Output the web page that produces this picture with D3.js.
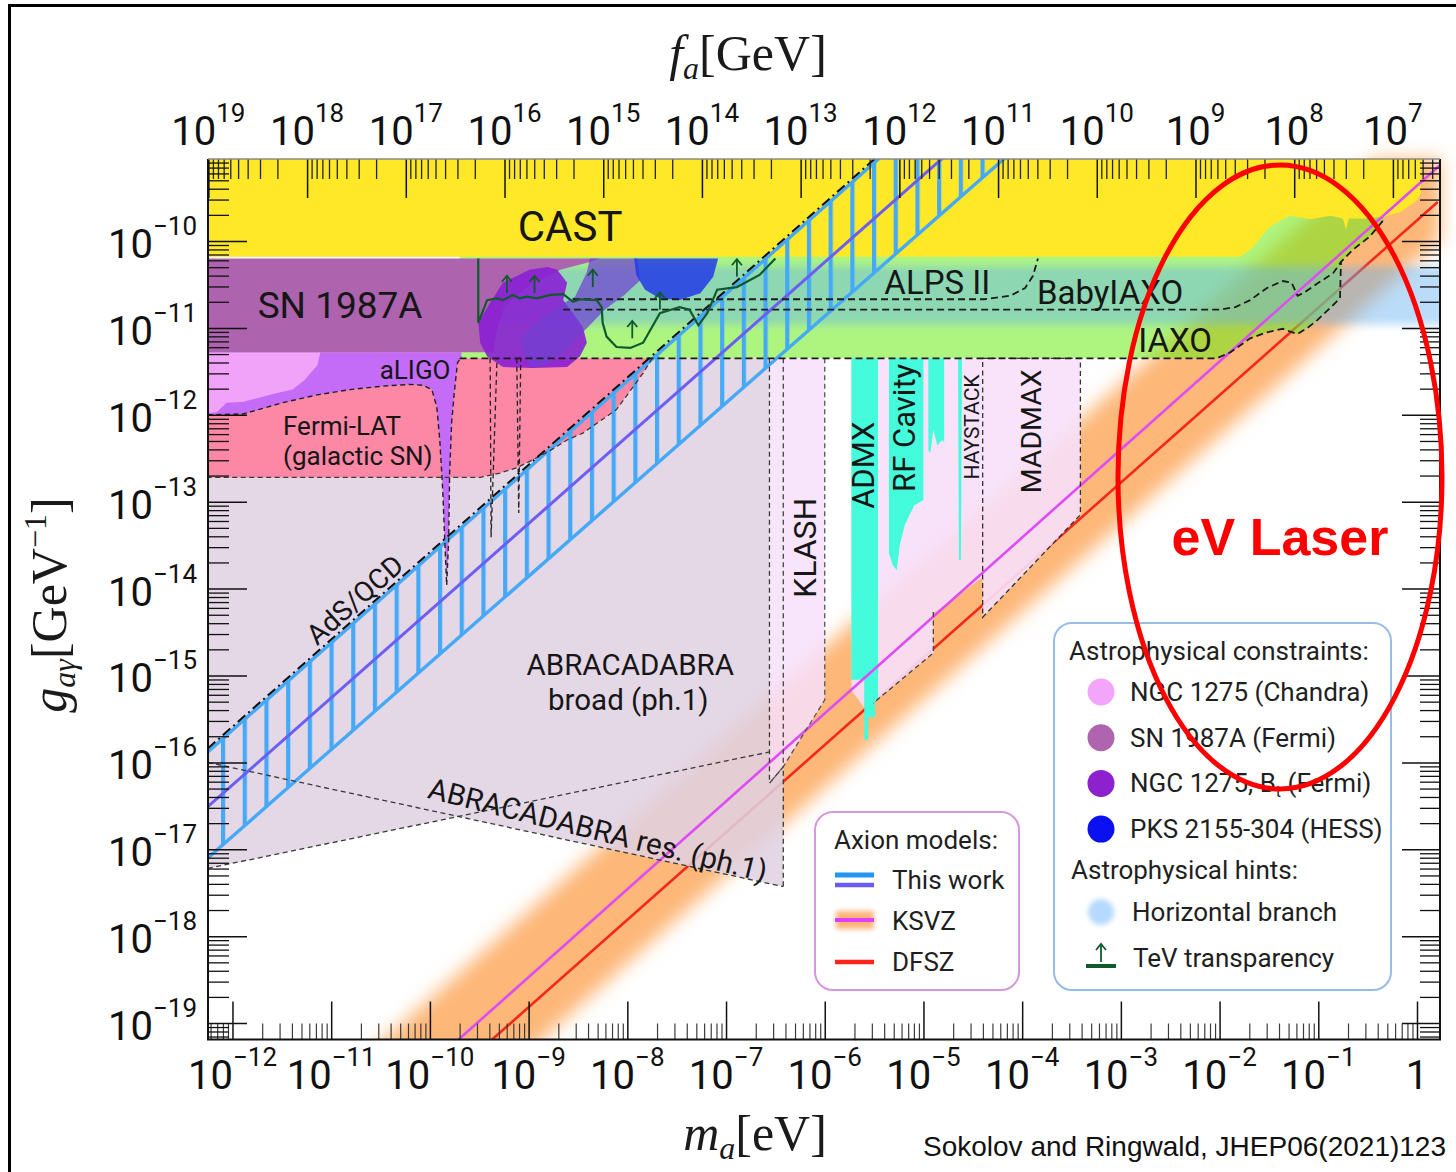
<!DOCTYPE html>
<html>
<head>
<meta charset="utf-8">
<script src="https://cdn.jsdelivr.net/npm/d3@7"></script>
<style>
  html, body { margin: 0; padding: 0; background: #fff; }
  svg { display: block; }
  .sans { font-family: Roboto, "Liberation Sans", Arial, sans-serif; }
  .serif { font-family: "Liberation Serif", "DejaVu Serif", serif; }
</style>
</head>
<body>
<svg id="chart" width="1456" height="1172"></svg>
<script>
// Axion-photon coupling versus axion mass: limits, projections and model bands.
// Every curve is a list of [log10(m_a / eV), log10(g_aγ / GeV^-1)] pairs.

const massDomain = [-12.248, 0.233];
const couplingDomain = [-19.189, -9.056];
const faPerMass = 5.7e6; // f_a[GeV] * m_a[eV]

// tick labels (powers of ten)
const massExponents = [-12, -11, -10, -9, -8, -7, -6, -5, -4, -3, -2, -1, 0];
const couplingExponents = [-19, -18, -17, -16, -15, -14, -13, -12, -11, -10];
const faExponents = [19, 18, 17, 16, 15, 14, 13, 12, 11, 10, 9, 8, 7];

// helioscopes
const castLimit = [[-12.25,-10.18],[-1.79,-10.18],[-1.67,-10.08],[-1.54,-9.90],[-1.47,-9.82],[-1.29,-9.71],
  [-1.08,-9.75],[-0.88,-9.71],[-0.75,-9.74],[-0.72,-9.87],[-0.69,-9.74],[-0.53,-9.74],[-0.34,-9.72],
  [-0.17,-9.67],[0.00,-9.53],[0.04,-9.45],[0.05,-8.95]];
const iaxoLimit = [[-9.70,-11.35],[-2.03,-11.35],[-1.89,-11.28],[-1.69,-11.12],[-1.52,-11.05],[-1.36,-11.01],
  [-1.29,-11.04],[-1.21,-11.07],[-1.11,-11.00],[-1.01,-10.91],[-0.88,-10.77],[-0.78,-10.66],[-0.77,-10.24],
  [-0.65,-10.10],[-0.48,-9.95],[-0.34,-9.76]];
const babyIaxoLimit = [[-8.65,-10.79],[-2.00,-10.79],[-1.84,-10.76],[-1.69,-10.68],[-1.52,-10.54],[-1.36,-10.46],
  [-1.27,-10.48],[-1.21,-10.63],[-1.14,-10.59],[-1.01,-10.49],[-0.85,-10.37],[-0.77,-10.24]];
const alpsIILimit = [[-8.55,-10.67],[-4.38,-10.67],[-4.12,-10.63],[-3.97,-10.54],[-3.89,-10.40],[-3.84,-10.20]];

// astrophysics
const hbHint = [-10.96, -10.29];
const sn1987a = [[-12.25,-11.28],[-9.36,-11.28],[-9.32,-11.02],[-9.24,-10.74],[-8.99,-10.51],[-8.68,-10.33],
  [-8.38,-10.24],[-8.28,-10.20],[-12.25,-10.20]];
const chandraNgc1275 = [[-12.25,-11.28],[-11.11,-11.28],[-11.14,-11.43],[-11.27,-11.60],[-11.39,-11.71],
  [-11.55,-11.75],[-11.72,-11.80],[-11.89,-11.85],[-12.06,-11.86],[-12.16,-11.97],[-12.25,-11.98]];
const fermiNgc1275A = [[-9.51,-10.94],[-9.49,-11.17],[-9.42,-11.33],[-9.26,-11.45],[-8.96,-11.46],[-8.61,-11.45],
  [-8.48,-11.33],[-8.41,-11.17],[-8.45,-10.99],[-8.65,-10.68],[-8.61,-10.48],[-8.71,-10.33],[-8.81,-10.30],
  [-8.99,-10.33],[-9.26,-10.48],[-9.39,-10.71]];
const fermiNgc1275B = [[-8.53,-10.64],[-8.41,-10.36],[-8.38,-10.20],[-7.90,-10.20],[-7.87,-10.45],[-8.03,-10.62],
  [-8.23,-10.79],[-8.38,-10.97],[-8.53,-11.14],[-8.68,-11.31],[-8.83,-11.43],[-8.99,-11.45],[-9.09,-11.14],
  [-8.89,-10.91],[-8.68,-10.74]];
const hessPks2155 = [[-7.93,-10.20],[-7.08,-10.20],[-7.13,-10.41],[-7.26,-10.60],[-7.47,-10.68],[-7.67,-10.66],
  [-7.82,-10.56],[-7.91,-10.39]];
const tevTransparency = [[-9.51,-10.20],[-9.51,-10.94],[-9.42,-10.68],[-9.32,-10.66],[-9.26,-10.68],[-9.16,-10.62],
  [-9.09,-10.66],[-9.02,-10.64],[-8.92,-10.66],[-8.78,-10.62],[-8.65,-10.61],[-8.55,-10.70],[-8.48,-10.67],
  [-8.31,-10.68],[-8.26,-10.76],[-8.25,-10.94],[-8.21,-11.10],[-8.11,-11.22],[-7.97,-11.23],[-7.84,-11.17],
  [-7.67,-10.83],[-7.47,-10.76],[-7.37,-10.79],[-7.28,-10.97],[-7.19,-10.83],[-7.09,-10.56],[-6.89,-10.53],
  [-6.66,-10.39],[-6.50,-10.20]];
const tevArrowBases = [[-9.22,-10.60],[-8.94,-10.60],[-8.35,-10.53],[-7.95,-11.12],[-7.67,-10.79],[-6.89,-10.41]];

// gravitational-wave / gamma-ray projections
const aligoRegion = [[-12.25,-12.00],[-11.89,-11.99],[-11.49,-11.86],[-11.14,-11.77],[-10.81,-11.71],[-10.48,-11.67],
  [-10.20,-11.65],[-10.07,-11.66],[-9.98,-11.71],[-9.93,-11.91],[-9.90,-12.29],[-9.87,-12.87],[-9.85,-13.44],
  [-9.83,-13.96],[-9.81,-13.44],[-9.80,-12.67],[-9.78,-12.09],[-9.75,-11.71],[-9.72,-11.40],[-9.68,-11.33],
  [-9.68,-11.28],[-12.25,-11.28]];
const aligoNotchA = [[-9.39,-11.35],[-9.38,-13.41],[-9.32,-11.35]];
const aligoNotchB = [[-9.12,-11.35],[-9.10,-13.13],[-9.08,-11.35]];
const fermiGalacticSN = [[-12.25,-11.28],[-9.70,-11.28],[-9.70,-11.35],[-7.75,-11.35],[-7.84,-11.52],[-8.11,-11.94],
  [-8.45,-12.21],[-8.61,-12.29],[-8.78,-12.41],[-8.96,-12.52],[-9.12,-12.61],[-9.29,-12.67],[-9.49,-12.72],
  [-12.25,-12.72]];

// lumped-element and haloscope projections / limits
const abraRegion = [[-12.25,-11.35],[-6.56,-11.35],[-6.56,-16.24],[-6.42,-16.05],[-6.42,-17.43],[-9.71,-16.62],
  [-12.25,-17.22]];
const abraBroadLimit = [[-12.25,-17.22],[-6.56,-15.88]];
const abraResLimit = [[-12.25,-16.00],[-6.42,-17.43]];
const klash = [[-6.56,-11.35],[-6.00,-11.35],[-6.00,-15.28],[-6.42,-16.05],[-6.56,-16.24]];
const klashInnerEdge = [[-6.42,-11.35],[-6.42,-16.05]];
const haloscopeProjection = [[-5.73,-11.35],[-4.40,-11.35],[-4.40,-13.87],[-4.88,-14.27],[-4.90,-14.27],
  [-4.90,-14.74],[-5.51,-15.32],[-5.60,-15.37],[-5.73,-15.17]];
const madmax = [[-4.40,-11.35],[-3.41,-11.35],[-3.41,-13.15],[-4.40,-14.33]];
const admx = [[-5.73,-11.35],[-5.46,-11.35],[-5.46,-15.28],[-5.49,-15.28],[-5.49,-15.48],[-5.56,-15.48],
  [-5.56,-15.74],[-5.60,-15.74],[-5.60,-15.05],[-5.73,-15.05]];
const rfCavityA = [[-5.35,-11.35],[-5.00,-11.35],[-5.00,-12.98],[-5.09,-13.04],[-5.14,-13.15],[-5.19,-13.27],
  [-5.24,-13.50],[-5.27,-13.79],[-5.31,-13.73],[-5.35,-13.59]];
const rfCavityB = [[-4.95,-11.35],[-4.79,-11.35],[-4.79,-12.32],[-4.81,-12.29],[-4.86,-12.35],[-4.90,-12.17],
  [-4.93,-12.44],[-4.95,-12.41]];
const haystack = [[-4.65,-11.35],[-4.61,-11.35],[-4.62,-13.67],[-4.64,-13.67]];

// axion models
const ksvzLine = [[-9.71,-19.19],[0.23,-9.13]];
const dfszLine = [[-9.37,-19.19],[0.21,-9.55]];
const ksvzBand = [[-10.87,-19.60],[0.50,-8.10],[2.10,-8.10],[-9.27,-19.60]];
const thisWorkUpper = [[-12.25,-15.88],[-5.40,-9.00]];
const thisWorkCentre = [[-12.25,-16.51],[-4.76,-9.00]];
const thisWorkLower = [[-12.25,-17.10],[-4.13,-9.00]];
const adsQcd = [[-12.25,-15.84],[-5.44,-9.00]];

// ---------------------------------------------------------------------------
const W = 1456, H = 1172;
const plot = { left: 208, right: 1440, top: 159, bottom: 1039.5 };
const gAbove = -8.95;

const x = d3.scaleLog().domain(massDomain.map(e => 10 ** e)).range([plot.left, plot.right]);
const y = d3.scaleLog().domain(couplingDomain.map(e => 10 ** e)).range([plot.bottom, plot.top]);
const xFa = d3.scaleLog().domain(massDomain.map(e => faPerMass / 10 ** e)).range([plot.left, plot.right]);

const px = d => x(10 ** d[0]);
const py = d => y(10 ** d[1]);
const line = d3.line().x(px).y(py);
const shape = pts => line(pts) + "Z";

const svg = d3.select("#chart");
svg.append("rect").attr("width", W).attr("height", H).attr("fill", "#fff");
const defs = svg.append("defs");
const clipRect = (id, x0, y0, w, h) => defs.append("clipPath").attr("id", id).append("rect")
  .attr("x", x0).attr("y", y0).attr("width", w).attr("height", h);
clipRect("plotClip", plot.left, plot.top, plot.right - plot.left, plot.bottom - plot.top);
clipRect("bandClip", plot.left, plot.top, plot.right - plot.left, plot.bottom - plot.top + 60);
clipRect("glowClip", plot.left, 140, W - plot.left, plot.bottom - 140);
function blurFilter(id, sd) {
  defs.append("filter").attr("id", id).attr("x", "-30%").attr("y", "-30%").attr("width", "160%").attr("height", "160%")
    .append("feGaussianBlur").attr("stdDeviation", sd);
}
blurFilter("blurWide", 9);
blurFilter("blurSoft", 4);
blurFilter("blurIcon", 2.5);
const hatch = defs.append("pattern").attr("id", "hatch").attr("patternUnits", "userSpaceOnUse")
  .attr("x", 221).attr("y", 0).attr("width", 21.7).attr("height", 20);
hatch.append("rect").attr("width", 4.2).attr("height", 20).attr("fill", "#45a9f7");

// QCD axion band: clipped to the frame, then softened so it bleeds a little past it
svg.append("g").attr("clip-path", "url(#glowClip)")
  .append("g").attr("filter", "url(#blurWide)")
  .append("path").attr("d", shape(ksvzBand)).attr("fill", "#fdb778").attr("clip-path", "url(#bandClip)");

const P = svg.append("g").attr("clip-path", "url(#plotClip)");
const fillShape = (pts, color, op) => P.append("path").attr("d", shape(pts)).attr("fill", color).attr("fill-opacity", op == null ? 1 : op);
const strokeLine = (pts, color, w, dash) => P.append("path").attr("d", line(pts)).attr("fill", "none")
  .attr("stroke", color).attr("stroke-width", w).attr("stroke-dasharray", dash || null);

// DFSZ line sits under the semi-transparent regions
strokeLine(dfszLine, "#f5281c", 2.6);

// helioscopes
fillShape(iaxoLimit.concat([[iaxoLimit[iaxoLimit.length - 1][0], gAbove], [iaxoLimit[0][0], gAbove]]), "#6ced18", 0.55);
fillShape(castLimit.concat([[castLimit[0][0], gAbove]]), "#fee828");

// horizontal-branch hint
P.append("g").attr("filter", "url(#blurSoft)").append("rect")
  .attr("x", plot.left - 20).attr("width", plot.right - plot.left + 40)
  .attr("y", y(10 ** hbHint[1])).attr("height", y(10 ** hbHint[0]) - y(10 ** hbHint[1]))
  .attr("fill", "#63b2f2").attr("fill-opacity", 0.45);

// lumped-element / gravitational-wave / gamma-ray regions
fillShape(abraRegion, "#e0d0e2", 0.86);
fillShape(fermiGalacticSN, "#fc88a6");
fillShape(aligoRegion, "#c46cf7");
fillShape(chandraNgc1275, "#f1a3fa");
fillShape(sn1987a, "#ad63ad");
fillShape(fermiNgc1275A, "#8a1fd4", 0.9);
fillShape(fermiNgc1275B, "#7040d2", 0.72);
fillShape(hessPks2155, "#2239e6", 0.85);

// haloscopes
fillShape(klash, "#f7dffa", 0.85);
fillShape(haloscopeProjection, "#f7dffa", 0.9);
fillShape(madmax, "#f7e0fa", 0.9);
fillShape(admx, "#44fcdb");
fillShape(rfCavityA, "#44fcdb");
fillShape(rfCavityB, "#44fcdb");
fillShape(haystack, "#44fcdb");

// This work: hatched band with central line
P.append("path").attr("d", shape([thisWorkUpper[0], thisWorkUpper[1], thisWorkLower[1], thisWorkLower[0]]))
  .attr("fill", "url(#hatch)");
strokeLine(thisWorkUpper, "#45a9f7", 3.4);
strokeLine(thisWorkLower, "#45a9f7", 3.4);
strokeLine(thisWorkCentre, "#6d5ef2", 3);

// KSVZ line
strokeLine(ksvzLine, "#dd4cf6", 2.6);

// dashed outlines
const thin = "5,3.5";
strokeLine(fermiGalacticSN.slice(3), "#3a3a3a", 1.3, thin);
strokeLine(aligoRegion.slice(0, 20), "#222", 1.4, thin);
strokeLine(aligoNotchA, "#222", 1.3, thin);
strokeLine(aligoNotchB, "#222", 1.3, thin);
strokeLine(abraBroadLimit, "#3a3a3a", 1.3, thin);
strokeLine(abraResLimit, "#3a3a3a", 1.3, thin);
strokeLine(abraRegion.slice(1, 5), "#3a3a3a", 1.3, thin);
strokeLine(klash.slice(1), "#555", 1.3, thin);
strokeLine(klashInnerEdge, "#444", 1.3, thin);
strokeLine(haloscopeProjection.slice(4, 7), "#444", 1.3, thin);
strokeLine(madmax.concat([madmax[0]]), "#333", 1.3, thin);
strokeLine(iaxoLimit, "#1c1c1c", 1.8, "7,4");
strokeLine(babyIaxoLimit, "#1c1c1c", 1.8, "7,4");
strokeLine(alpsIILimit, "#1c1c1c", 1.8, "7,4");
strokeLine(adsQcd, "#111", 2, "10,4,2,4");

// TeV transparency hint
strokeLine(tevTransparency, "#0f5a2a", 2.2);
tevArrowBases.forEach(d => {
  const x0 = px(d), y0 = py(d), y1 = py([d[0], d[1] + 0.2]);
  P.append("line").attr("x1", x0).attr("x2", x0).attr("y1", y0).attr("y2", y1)
    .attr("stroke", "#0f5a2a").attr("stroke-width", 1.8);
  P.append("path").attr("d", `M${x0 - 5},${y1 + 6}L${x0},${y1}L${x0 + 5},${y1 + 6}`)
    .attr("fill", "none").attr("stroke", "#0f5a2a").attr("stroke-width", 1.8);
});

// region labels
const regionLabels = [
  { t: "CAST", m: -8.58, g: -9.83, s: 42 },
  { t: "SN 1987A", m: -10.91, g: -10.74, s: 37 },
  { t: "aLIGO", m: -10.15, g: -11.48, s: 26 },
  { t: "Fermi-LAT", m: -10.89, g: -12.13, s: 26 },
  { t: "(galactic SN)", m: -10.73, g: -12.47, s: 26 },
  { t: "AdS/QCD", m: -10.76, g: -14.13, s: 28, r: -41.5 },
  { t: "ABRACADABRA", m: -7.97, g: -14.88, s: 29.5 },
  { t: "broad (ph.1)", m: -7.99, g: -15.28, s: 29.5 },
  { t: "ABRACADABRA res. (ph.1)", m: -8.30, g: -16.78, s: 29.5, r: 14 },
  { t: "KLASH", m: -6.20, g: -13.53, s: 32, r: -90 },
  { t: "ADMX", m: -5.61, g: -12.58, s: 31, r: -90 },
  { t: "RF Cavity", m: -5.19, g: -12.15, s: 31, r: -90 },
  { t: "HAYSTACK", m: -4.51, g: -12.14, s: 21, r: -90 },
  { t: "MADMAX", m: -3.91, g: -12.19, s: 28.5, r: -90 },
  { t: "ALPS II", m: -4.86, g: -10.48, s: 33 },
  { t: "BabyIAXO", m: -3.11, g: -10.59, s: 33 },
  { t: "IAXO", m: -2.45, g: -11.14, s: 33 }
];
const labelLayer = svg.append("g").attr("class", "sans");
regionLabels.forEach(l => {
  labelLayer.append("text")
    .attr("transform", `translate(${px([l.m, l.g])},${py([l.m, l.g])}) rotate(${l.r || 0})`)
    .attr("text-anchor", "middle").attr("dominant-baseline", "central")
    .attr("font-size", l.s).attr("fill", "#161616").text(l.t);
});

// ---------------------------------------------------------------------------
// axes
const isDecade = v => Math.abs(Math.log10(v) - Math.round(Math.log10(v))) < 1e-6;
const splitTicks = scale => { const all = scale.ticks(40); return [all.filter(isDecade), all.filter(v => !isDecade(v))]; };
const [mMajor, mMinor] = splitTicks(x);
const [gMajor, gMinor] = splitTicks(y);
const [fMajor, fMinor] = splitTicks(xFa);

function drawTicks(axis, values, size, transform, color, width) {
  const g = svg.append("g").attr("transform", transform)
    .call(axis.tickValues(values).tickSize(size).tickFormat(""));
  g.select(".domain").remove();
  g.selectAll(".tick line").attr("stroke", color).attr("stroke-width", width);
}
drawTicks(d3.axisBottom(x), mMinor, -16, `translate(0,${plot.bottom})`, "#3c3c3c", 1.2);
drawTicks(d3.axisBottom(x), mMajor, -38, `translate(0,${plot.bottom})`, "#111", 1.5);
drawTicks(d3.axisTop(xFa), fMinor, -20, `translate(0,${plot.top})`, "#222", 1.3);
drawTicks(d3.axisTop(xFa), fMajor, -39, `translate(0,${plot.top})`, "#111", 1.5);
drawTicks(d3.axisLeft(y), gMinor, -21, `translate(${plot.left},0)`, "#111", 1.3);
drawTicks(d3.axisLeft(y), gMajor, -39, `translate(${plot.left},0)`, "#111", 1.5);
drawTicks(d3.axisRight(y), gMinor, -20, `translate(${plot.right},0)`, "#111", 1.3);
drawTicks(d3.axisRight(y), gMajor, -38, `translate(${plot.right},0)`, "#111", 1.5);

// frame
svg.append("path").attr("d", `M${plot.left},${plot.top}V${plot.bottom}H${plot.right}V${plot.top}`)
  .attr("fill", "none").attr("stroke", "#111").attr("stroke-width", 2);
svg.append("line").attr("x1", plot.left).attr("x2", plot.right).attr("y1", plot.top).attr("y2", plot.top)
  .attr("stroke", "#8a8a8a").attr("stroke-width", 1.5);

function powerLabel(xp, yp, exp, anchor) {
  const t = svg.append("text").attr("class", "sans").attr("x", xp).attr("y", yp)
    .attr("text-anchor", anchor).attr("font-size", 40).attr("fill", "#111");
  if (exp === 0) { t.text("1"); return; }
  t.append("tspan").text("10");
  t.append("tspan").attr("dy", -23).attr("font-size", 26).text(exp < 0 ? "\u2212" + (-exp) : String(exp));
}
massExponents.forEach(e => powerLabel(x(10 ** e), 1089, e, "middle"));
faExponents.forEach(e => powerLabel(xFa(10 ** e), 145, e, "middle"));
couplingExponents.forEach(e => powerLabel(197, y(10 ** e) + 17, e, "end"));

// axis titles
const topTitle = svg.append("text").attr("class", "serif").attr("x", 748).attr("y", 70)
  .attr("text-anchor", "middle").attr("font-size", 50).attr("fill", "#1a1a1a");
topTitle.append("tspan").attr("font-style", "italic").text("f");
topTitle.append("tspan").attr("font-style", "italic").attr("font-size", 32).attr("dy", 9).text("a");
topTitle.append("tspan").attr("dy", -9).text("[GeV]");

const bottomTitle = svg.append("text").attr("class", "serif").attr("x", 755).attr("y", 1150)
  .attr("text-anchor", "middle").attr("font-size", 50).attr("fill", "#1a1a1a");
bottomTitle.append("tspan").attr("font-style", "italic").text("m");
bottomTitle.append("tspan").attr("font-style", "italic").attr("font-size", 32).attr("dy", 9).text("a");
bottomTitle.append("tspan").attr("dy", -9).text("[eV]");

const leftTitle = svg.append("text").attr("class", "serif")
  .attr("transform", "translate(66,605) rotate(-90)")
  .attr("text-anchor", "middle").attr("font-size", 50).attr("fill", "#1a1a1a");
leftTitle.append("tspan").attr("font-style", "italic").text("g");
leftTitle.append("tspan").attr("font-style", "italic").attr("font-size", 32).attr("dy", 9).text("a\u03b3");
leftTitle.append("tspan").attr("dy", -9).text("[GeV");
leftTitle.append("tspan").attr("font-size", 32).attr("dy", -20).text("\u22121");
leftTitle.append("tspan").attr("dy", 20).text("]");

// ---------------------------------------------------------------------------
// legends
const legendFont = 26;
const modelEntries = ["This work", "KSVZ", "DFSZ"];
const lg1 = svg.append("g").attr("class", "sans");
lg1.append("rect").attr("x", 815).attr("y", 812).attr("width", 204).attr("height", 178).attr("rx", 18)
  .attr("fill", "#fff").attr("stroke", "#d598dd").attr("stroke-width", 2);
lg1.append("text").attr("x", 834).attr("y", 849).attr("font-size", legendFont).attr("fill", "#1f1f1f").text("Axion models:");
lg1.append("line").attr("x1", 835).attr("x2", 874).attr("y1", 875).attr("y2", 875).attr("stroke", "#2196f3").attr("stroke-width", 5);
lg1.append("line").attr("x1", 835).attr("x2", 874).attr("y1", 885).attr("y2", 885).attr("stroke", "#6a5cf0").attr("stroke-width", 4.5);
lg1.append("rect").attr("x", 836).attr("y", 911).attr("width", 38).attr("height", 18).attr("fill", "#fbb47a").attr("filter", "url(#blurIcon)");
lg1.append("line").attr("x1", 835).attr("x2", 874).attr("y1", 920).attr("y2", 920).attr("stroke", "#e040fb").attr("stroke-width", 4);
lg1.append("line").attr("x1", 835).attr("x2", 874).attr("y1", 962).attr("y2", 962).attr("stroke", "#ff2418").attr("stroke-width", 4.5);
modelEntries.forEach((t, i) => lg1.append("text").attr("x", 892).attr("y", [889, 930, 971][i])
  .attr("font-size", legendFont).attr("fill", "#1f1f1f").text(t));

const constraintEntries = [
  { name: "NGC 1275 (Chandra)", color: "#f2a5fb" },
  { name: "SN 1987A (Fermi)", color: "#ae64ae" },
  { name: "NGC 1275, B", sub: "t", tail: " (Fermi)", color: "#8d21cd" },
  { name: "PKS 2155-304 (HESS)", color: "#0a10f0" }
];
const lg2 = svg.append("g").attr("class", "sans");
lg2.append("rect").attr("x", 1054).attr("y", 623).attr("width", 337).attr("height", 367).attr("rx", 18)
  .attr("fill", "#fff").attr("stroke", "#98bce8").attr("stroke-width", 2);
lg2.append("text").attr("x", 1069).attr("y", 660).attr("font-size", legendFont).attr("fill", "#1f1f1f").text("Astrophysical constraints:");
constraintEntries.forEach((e, i) => {
  const cy = 692 + i * 45.7;
  lg2.append("circle").attr("cx", 1101).attr("cy", cy).attr("r", 13.5).attr("fill", e.color);
  const t = lg2.append("text").attr("x", 1130).attr("y", cy + 9).attr("font-size", legendFont).attr("fill", "#1f1f1f");
  t.append("tspan").text(e.name);
  if (e.sub) {
    t.append("tspan").attr("font-size", 16).attr("dy", 5).text(e.sub);
    t.append("tspan").attr("dy", -5).text(e.tail);
  }
});
lg2.append("text").attr("x", 1071).attr("y", 879).attr("font-size", legendFont).attr("fill", "#1f1f1f").text("Astrophysical hints:");
lg2.append("circle").attr("cx", 1101).attr("cy", 912).attr("r", 13).attr("fill", "#b5d9ff").attr("filter", "url(#blurIcon)");
lg2.append("text").attr("x", 1132).attr("y", 921).attr("font-size", legendFont).attr("fill", "#1f1f1f").text("Horizontal branch");
lg2.append("line").attr("x1", 1086).attr("x2", 1116).attr("y1", 966).attr("y2", 966).attr("stroke", "#0f5a2a").attr("stroke-width", 4);
lg2.append("line").attr("x1", 1101).attr("x2", 1101).attr("y1", 962).attr("y2", 944).attr("stroke", "#0f5a2a").attr("stroke-width", 1.8);
lg2.append("path").attr("d", "M1096,950L1101,944L1106,950").attr("fill", "none").attr("stroke", "#0f5a2a").attr("stroke-width", 1.8);
lg2.append("text").attr("x", 1133).attr("y", 967).attr("font-size", legendFont).attr("fill", "#1f1f1f").text("TeV transparency");

// eV-laser reach annotation
svg.append("ellipse").attr("cx", 1280).attr("cy", 477).attr("rx", 162).attr("ry", 312)
  .attr("fill", "none").attr("stroke", "#ff0000").attr("stroke-width", 5);
svg.append("text").attr("x", 1280).attr("y", 555).attr("text-anchor", "middle")
  .attr("font-family", "'Liberation Sans', Arial, sans-serif").attr("font-weight", "bold")
  .attr("font-size", 52).attr("fill", "#ff0000").text("eV Laser");

// attribution and outer frame
svg.append("text").attr("x", 1446).attr("y", 1156).attr("text-anchor", "end")
  .attr("font-family", "'Liberation Sans', Arial, sans-serif").attr("font-size", 28).attr("fill", "#111")
  .text("Sokolov and Ringwald, JHEP06(2021)123");
svg.append("path").attr("d", `M9.5,${H}V5.5H${W}`).attr("fill", "none").attr("stroke", "#000").attr("stroke-width", 3);
</script>
</body>
</html>
